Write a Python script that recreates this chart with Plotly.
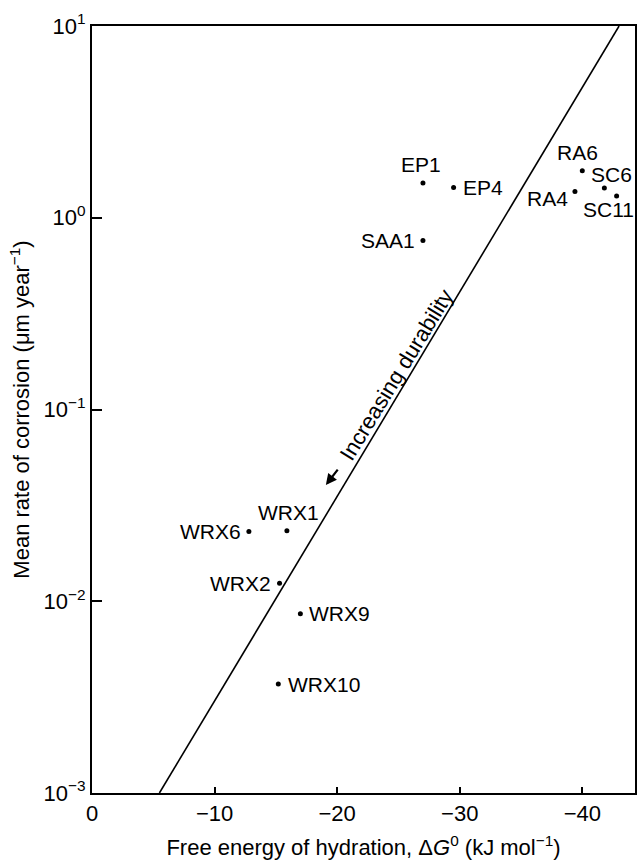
import math
import plotly.graph_objects as go

# Data
labels = ["EP1", "EP4", "SAA1", "RA6", "SC6", "RA4", "SC11",
          "WRX6", "WRX1", "WRX2", "WRX9", "WRX10"]
dG = [-27.0, -29.5, -27.0, -40.0, -41.8, -39.4, -42.8,
      -12.8, -15.9, -15.3, -17.0, -15.2]
rate = [1.52, 1.44, 0.76, 1.76, 1.43, 1.37, 1.30,
        0.0231, 0.0233, 0.0124, 0.0086, 0.0037]

trend_x = [-5.5, -43.0]
trend_y = [1e-3, 10.0]

x_ticks = [0, -10, -20, -30, -40]
x_ticktext = ["0", "\u221210", "\u221220", "\u221230", "\u221240"]
y_ticks = [1e-3, 1e-2, 1e-1, 1e0, 1e1]
y_ticktext = ["10<sup>\u22123</sup>", "10<sup>\u22122</sup>", "10<sup>\u22121</sup>",
              "10<sup>0</sup>", "10<sup>1</sup>"]

# label placement (anchor, xshift px, yshift px) - layout only
label_style = [("center", -2, 18), ("left", 7, 0), ("right", -6, 0),
               ("center", -5, 18), ("center", 7, 13), ("right", -5, -7),
               ("center", -8, -14), ("right", -6, 0), ("center", 2, 18),
               ("right", -7, 0), ("left", 7, 0), ("left", 8, 0)]

FONT = "Liberation Sans, Arial, Helvetica, sans-serif"

fig = go.Figure()
fig.add_trace(go.Scatter(x=trend_x, y=trend_y, mode="lines",
                         line=dict(color="black", width=1.6),
                         showlegend=False, hoverinfo="skip"))
fig.add_trace(go.Scatter(x=dG, y=rate, mode="markers",
                         marker=dict(color="black", size=5),
                         showlegend=False))

for lab, xv, yv, (anc, dx, dy) in zip(labels, dG, rate, label_style):
    fig.add_annotation(text=lab, x=xv, y=math.log10(yv), xref="x", yref="y",
                       showarrow=False, xanchor=anc, yanchor="middle",
                       xshift=dx, yshift=dy,
                       font=dict(family=FONT, size=21, color="black"))

# arrow and rotated caption along the trend line
fig.add_annotation(x=-19.08, y=-1.394, xref="x", yref="y", text="",
                   showarrow=True, ax=13, ay=-17, arrowhead=2, arrowsize=1,
                   arrowwidth=2.2, arrowcolor="black")
fig.add_annotation(text="Increasing durability", x=-24.84, y=-0.815,
                   xref="x", yref="y", showarrow=False, textangle=-58.5,
                   font=dict(family=FONT, size=22, color="black"))

fig.update_layout(
    width=638, height=864,
    margin=dict(l=92, r=1, t=26, b=71),
    paper_bgcolor="white", plot_bgcolor="white",
    font=dict(family=FONT, size=20, color="black"),
)
fig.update_xaxes(range=[0, -44.3], tickvals=x_ticks, ticktext=x_ticktext,
                 ticks="inside", ticklen=6, tickwidth=1.5, tickcolor="black",
                 showline=True, linecolor="black", linewidth=2, mirror=True,
                 showgrid=False, zeroline=False,
                 tickfont=dict(family=FONT, size=22),
                 title=dict(text="Free energy of hydration, \u0394<i>G</i><sup>0</sup> (kJ mol<sup>\u22121</sup>)",
                            font=dict(family=FONT, size=22), standoff=14))
fig.update_yaxes(type="log", range=[-3, 1], tickvals=y_ticks, ticktext=y_ticktext,
                 ticks="inside", ticklen=10, tickwidth=1.5, tickcolor="black",
                 showline=True, linecolor="black", linewidth=2, mirror=True,
                 showgrid=False, zeroline=False,
                 tickfont=dict(family=FONT, size=22),
                 title=dict(text="Mean rate of corrosion (\u03bcm year<sup>\u22121</sup>)",
                            font=dict(family=FONT, size=22), standoff=8))

fig.write_html("out.html",
               config={"displayModeBar": False},
               post_script="document.body.style.margin='0';document.body.style.overflow='hidden';")
